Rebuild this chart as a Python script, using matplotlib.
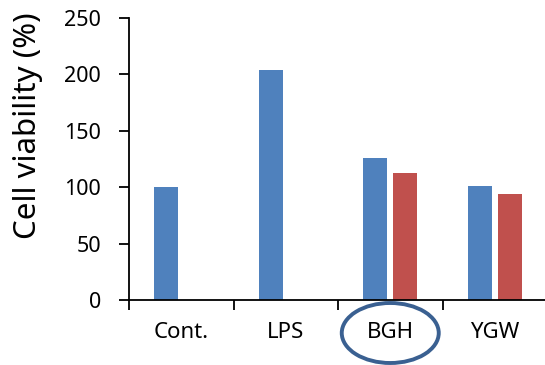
import numpy as np
import matplotlib
matplotlib.use("Agg")
import matplotlib.pyplot as plt
from matplotlib.patches import Ellipse
from matplotlib.transforms import blended_transform_factory

plt.rcParams['font.family'] = ['Noto Sans', 'DejaVu Sans']

categories = ["Cont.", "LPS", "BGH", "YGW"]
series_blue = [100, 204, 126, 101]
series_red = [np.nan, np.nan, 113, 94]
yticks = [0, 50, 100, 150, 200, 250]

W, H = 545, 365
fig = plt.figure(figsize=(W / 100, H / 100), dpi=100)
ax = fig.add_axes([129 / W, 65 / H, 418 / W, 282 / H])

x = np.arange(len(categories))
bw = 0.23
off = 0.144
ax.bar(x - off, series_blue, width=bw, color="#4F81BD")
ax.bar(x + off, series_red, width=bw, color="#C0504D")

ax.set_xlim(-0.5, len(categories) - 0.5)
ax.set_ylim(0, 250)
ax.set_yticks(yticks)
ax.set_yticklabels([str(v) for v in yticks])

# category boundaries carry the tick marks, names sit centred between them
ax.set_xticks(np.arange(len(categories) + 1) - 0.5)
ax.set_xticklabels([])
ax.set_xticks(x, minor=True)
ax.set_xticklabels(categories, minor=True)
ax.tick_params(axis="x", which="major", direction="out", length=7, width=1.3, color="black")
ax.tick_params(axis="x", which="minor", length=0, pad=16, labelsize=16)
ax.tick_params(axis="y", direction="out", length=7, width=1.3, pad=13, labelsize=15.5)

for side in ("top", "right"):
    ax.spines[side].set_visible(False)
for side in ("left", "bottom"):
    ax.spines[side].set_linewidth(1.3)

fig.text(28 / W, 1 - 126 / H, "Cell viability (%)", rotation=90,
         ha="center", va="center", fontsize=22.5)

# highlight ring around the BGH label
trans = blended_transform_factory(ax.transData, fig.transFigure)
ring = Ellipse((2, 1 - 333 / H), width=97 / 104.5, height=60 / H,
               transform=trans, fill=False, edgecolor="#3A6091",
               linewidth=2.8, clip_on=False)
fig.add_artist(ring)

fig.savefig("out.png", dpi=100)
